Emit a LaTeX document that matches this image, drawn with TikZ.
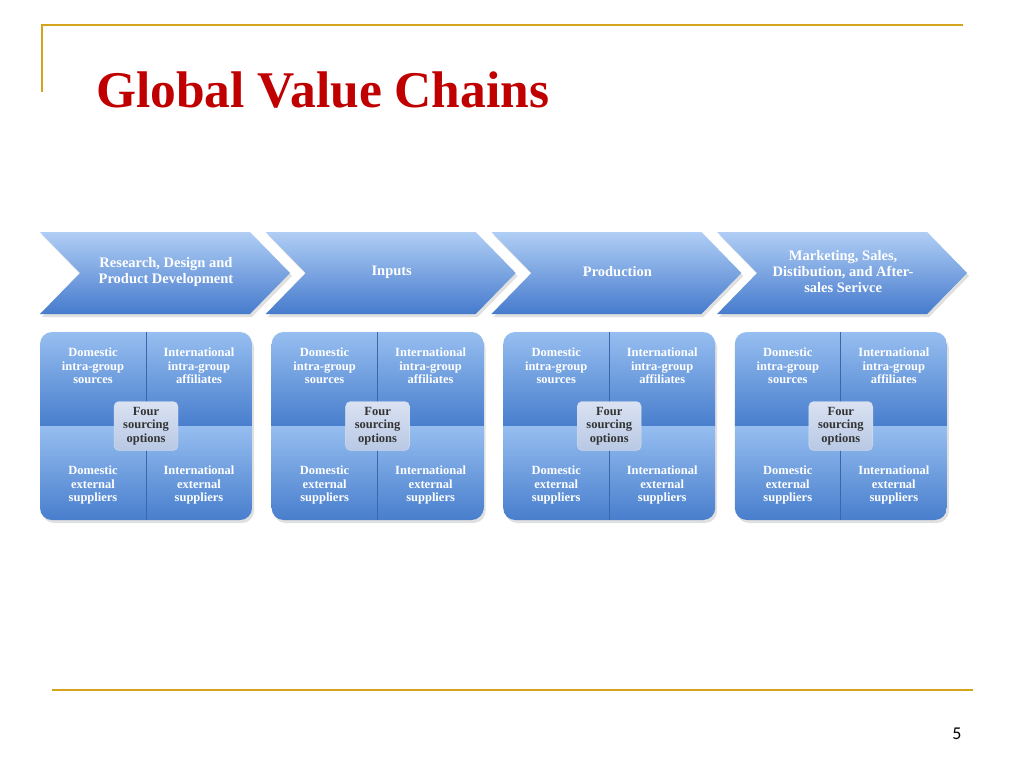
\documentclass[tikz,border=0pt]{standalone}
\usepackage{fontspec}
\setmainfont{Liberation Serif}
\newfontfamily\numfont{Carlito}
\usetikzlibrary{calc}
\definecolor{gold}{RGB}{212,164,28}
\definecolor{titlered}{RGB}{192,0,0}
\definecolor{chevtop}{RGB}{176,206,245}
\definecolor{chevbot}{RGB}{70,123,205}
\definecolor{quadtop}{RGB}{150,190,240}
\definecolor{quadbot}{RGB}{72,126,205}
\definecolor{opttop}{RGB}{218,226,242}
\definecolor{optbot}{RGB}{184,200,228}
\definecolor{divline}{RGB}{58,102,172}
\def\chevron[#1](#2){\path[#1] (#2) -- ++(210,0) -- ++(40,41) -- ++(-40,41) -- ++(-210,0) -- ++(40,-41) -- cycle;}
\tikzset{
  steplabel/.style={text=white, align=center, font=\bfseries\fontsize{14.5}{16}\selectfont},
  quadlabel/.style={text=white, align=center, font=\bfseries\fontsize{12.5}{13.5}\selectfont},
  optbox/.style={rounded corners=5, top color=opttop, bottom color=optbot, draw=white!80!divline,
    minimum width=64, minimum height=49, inner sep=1, text=black!80, align=center,
    font=\bfseries\fontsize{12.5}{13.5}\selectfont}
}
\begin{document}
\begin{tikzpicture}[x=1pt,y=-1pt]
\useasboundingbox (0,0) rectangle (1024,768);

% frame and title
\draw[gold, line width=2] (42,92) -- (42,25) -- (963,25);
\draw[gold, line width=2] (52,690) -- (973,690);
\node[anchor=base west, inner sep=0, text=titlered, font=\bfseries\fontsize{51.5}{60}\selectfont] (title) at (96,107) {Global Value Chains};
\node[anchor=base, inner sep=0, font=\numfont\fontsize{18}{20}\selectfont] (pagenum) at (957,739) {5};

% value chain steps
\foreach \i/\txt in {0/{Research, Design and\\Product Development}, 1/{Inputs}, 2/{Production},
                     3/{Marketing, Sales,\\Distibution, and After-\\sales Serivce}} {
  \pgfmathsetmacro\cx{40+225.7*\i}
  \chevron[fill=black!12](\cx+2,235)
  \chevron[top color=chevtop, bottom color=chevbot](\cx,232)
  \node[steplabel] (step\i) at (\cx+126,272) {\txt};
}

% sourcing boxes
\foreach \i in {0,...,3} {
  \pgfmathsetmacro\bx{40+231.6*\i}
  \fill[black!12, rounded corners=12] (\bx+2,336) rectangle (\bx+214,523);
  \begin{scope}
    \clip[rounded corners=12] (\bx,332) rectangle (\bx+212,520);
    \shade[top color=quadtop, bottom color=quadbot] (\bx,332) rectangle (\bx+212,426);
    \shade[top color=quadtop, bottom color=quadbot] (\bx,426) rectangle (\bx+212,520);
  \end{scope}
  \draw[divline, line width=1] (\bx+106,332) -- (\bx+106,520);
  \node[quadlabel] (dom\i) at (\bx+53,366) {Domestic\\intra-group\\sources};
  \node[quadlabel] (int\i) at (\bx+159,366) {International\\intra-group\\affiliates};
  \node[quadlabel] (domext\i) at (\bx+53,485) {Domestic\\external\\suppliers};
  \node[quadlabel] (intext\i) at (\bx+159,485) {International\\external\\suppliers};
  \node[optbox] (opt\i) at (\bx+106,426) {Four\\sourcing\\options};
}
\end{tikzpicture}
\end{document}
